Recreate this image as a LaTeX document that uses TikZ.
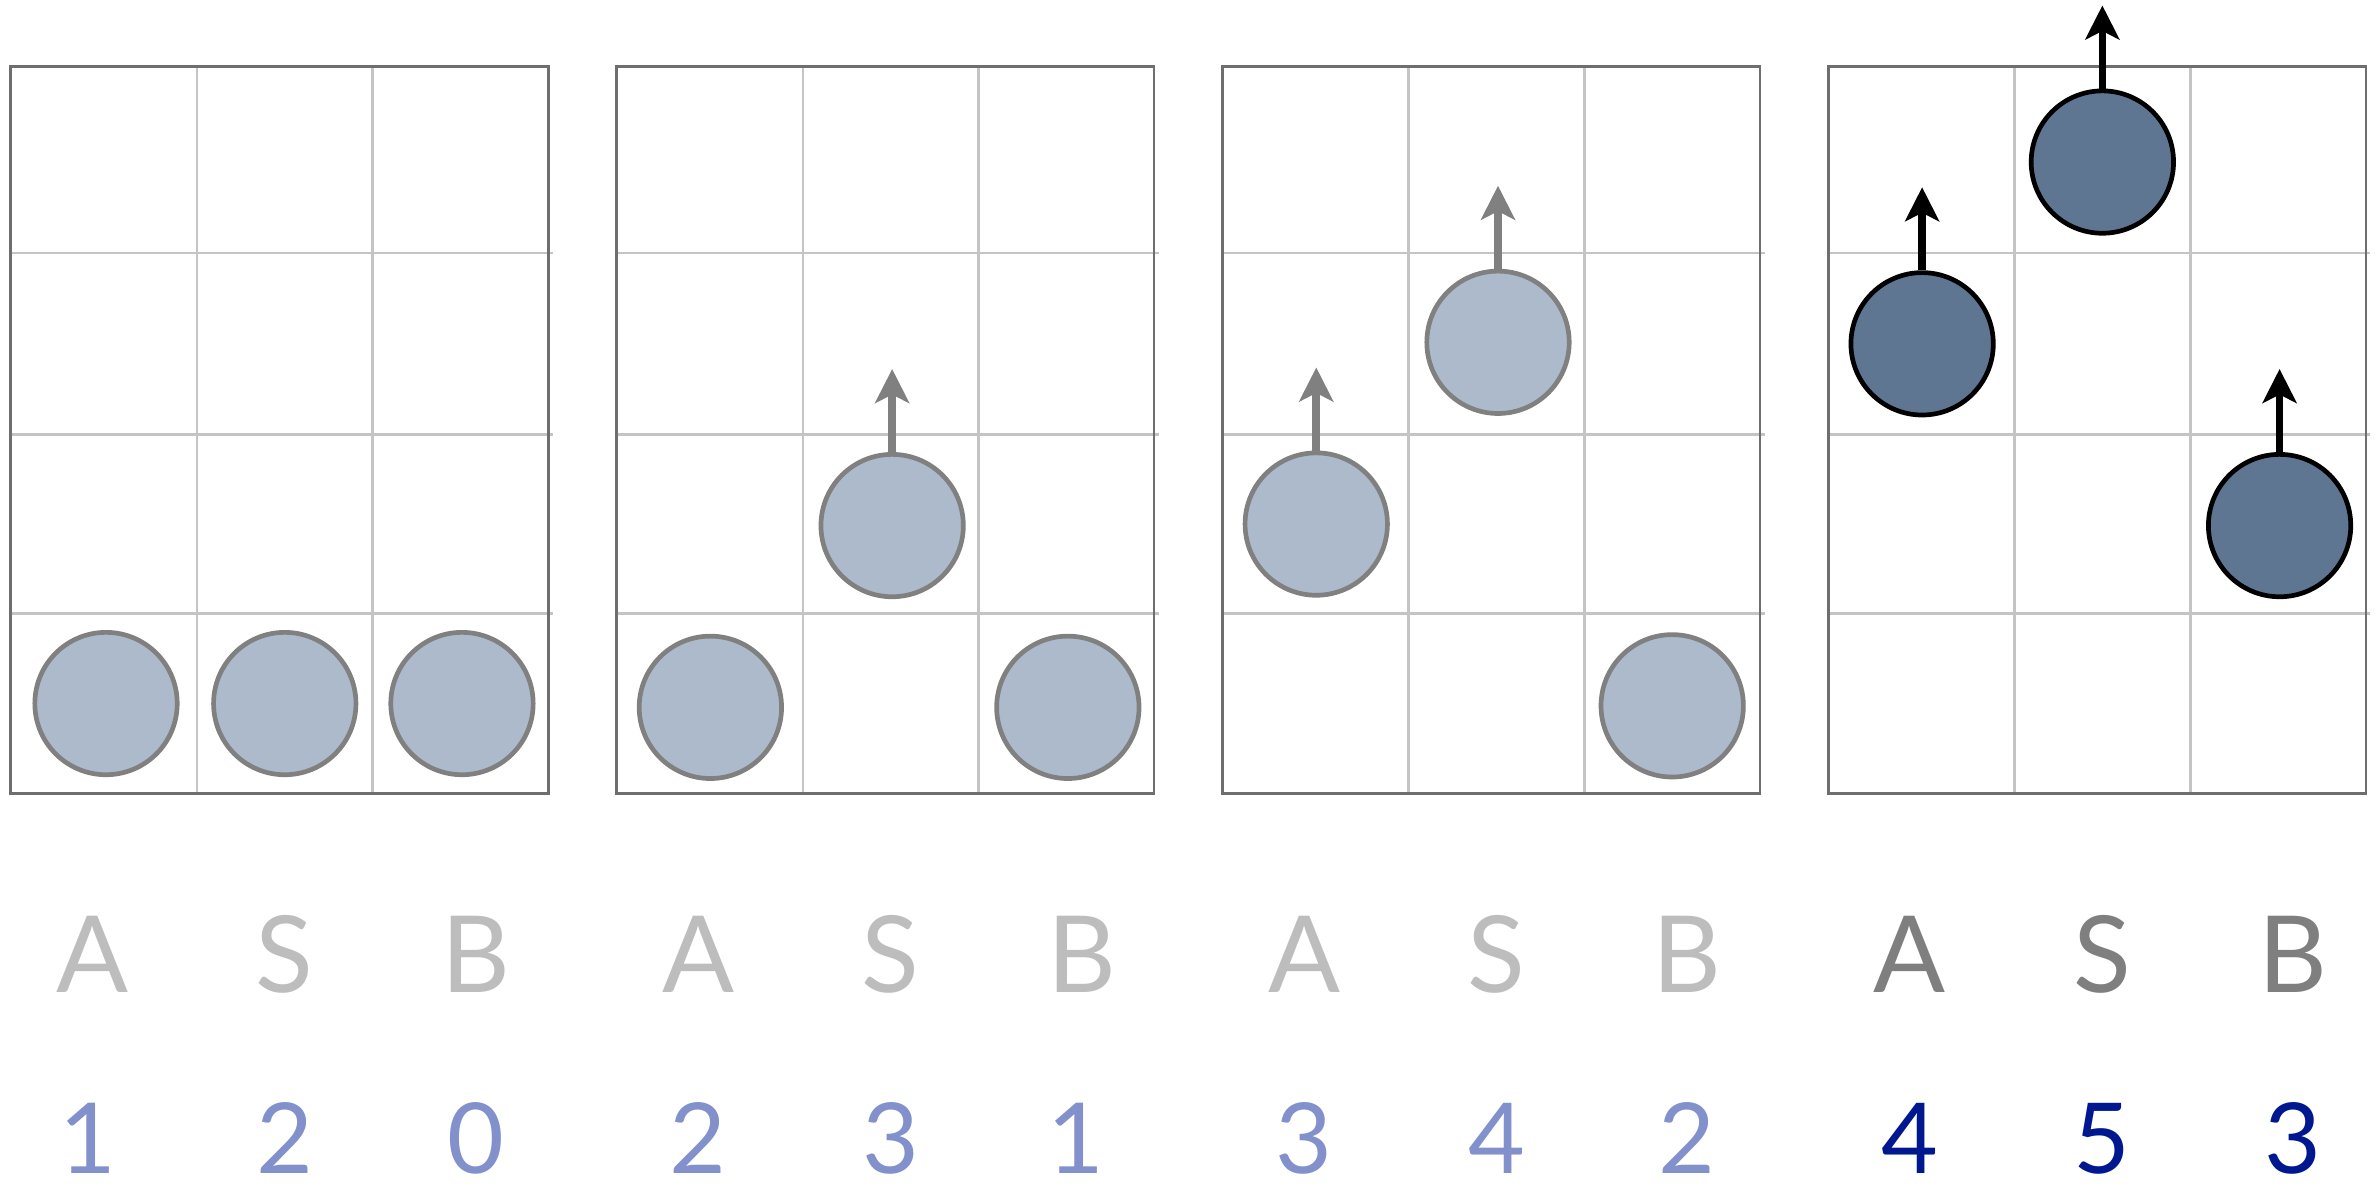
\documentclass[tikz,border=0pt]{standalone}
\usepackage{fontspec}
\setmainfont{Lato}
\usetikzlibrary{arrows.meta,positioning}
\definecolor{ballfill}{HTML}{ADBACB}
\definecolor{balldark}{HTML}{5F7692}
\definecolor{ballline}{HTML}{808080}
\definecolor{gridframe}{HTML}{6E6E6E}
\definecolor{gridline}{HTML}{C4C4C4}
\definecolor{lettlight}{HTML}{BDBDBD}
\definecolor{lettdark}{HTML}{7F7F7F}
\definecolor{numlight}{HTML}{8290CC}
\definecolor{numdark}{HTML}{00188F}
\begin{document}
\begin{tikzpicture}[x=0.125mm,y=0.125mm,
    ball/.style={circle,minimum size=11.75mm,inner sep=0pt,draw=ballline,line width=1.1pt,fill=ballfill},
    hot/.style={ball,draw=black,fill=balldark},
    arr/.style={-{Stealth[length=2.8mm,width=2.8mm,inset=0.7mm]},line width=1.8pt,ballline},
    hotarr/.style={arr,black},
    lett/.style={anchor=base,inner sep=0pt,font=\fontsize{25}{30}\selectfont,text=lettlight},
    lettd/.style={lett,text=lettdark},
    num/.style={anchor=base,inner sep=0pt,font=\fontsize{23}{28}\selectfont,text=numlight},
    numd/.style={num,text=numdark}
    ]
    \useasboundingbox (0,0) rectangle (1568,789);
    % the four boards
    \foreach \l in {7,407,807,1207}{
        \draw[gridline,line width=0.6pt] (\l+123,265) -- (\l+123,745) (\l+239,265) -- (\l+239,745)
            (\l,622) -- (\l+358,622) (\l,502) -- (\l+358,502) (\l,384) -- (\l+358,384);
        \draw[gridframe,line width=0.6pt] (\l,265) rectangle (\l+355,745);
    }
    % balls
    \node[ball] (a1) at (70,324.5) {};
    \node[ball] (s1) at (188,324.5) {};
    \node[ball] (b1) at (305,324.5) {};
    \node[ball] (a2) at (469,322) {};
    \node[ball] (s2) at (589,442) {};
    \node[ball] (b2) at (705,322) {};
    \node[ball] (a3) at (869,443) {};
    \node[ball] (s3) at (989,563) {};
    \node[ball] (b3) at (1104,323) {};
    \node[hot] (a4) at (1269,562) {};
    \node[hot] (s4) at (1388,682) {};
    \node[hot] (b4) at (1505,442) {};
    % arrows
    \coordinate (s2t) at ([yshift=6.85mm]s2.north);
    \coordinate (a3t) at ([yshift=6.85mm]a3.north);
    \coordinate (s3t) at ([yshift=6.85mm]s3.north);
    \coordinate (a4t) at ([yshift=6.85mm]a4.north);
    \coordinate (s4t) at ([yshift=6.85mm]s4.north);
    \coordinate (b4t) at ([yshift=6.85mm]b4.north);
    \draw[arr] (s2.north) -- (s2t);
    \draw[arr] (a3.north) -- (a3t);
    \draw[arr] (s3.north) -- (s3t);
    \draw[hotarr] (a4.north) -- (a4t);
    \draw[hotarr] (s4.north) -- (s4t);
    \draw[hotarr] (b4.north) -- (b4t);
    % letters
    \node[lett] (la1) at (61,134) {A};
    \node[lett] (ls1) at (188,134) {S};
    \node[lett] (lb1) at (314,134) {B};
    \node[lett] (la2) at (461,134) {A};
    \node[lett] (ls2) at (588,134) {S};
    \node[lett] (lb2) at (714,134) {B};
    \node[lett] (la3) at (861,134) {A};
    \node[lett] (ls3) at (988,134) {S};
    \node[lett] (lb3) at (1114,134) {B};
    \node[lettd] (la4) at (1261,134) {A};
    \node[lettd] (ls4) at (1388,134) {S};
    \node[lettd] (lb4) at (1514,134) {B};
    % scores
    \node[num] (na1) at (58,14) {1};
    \node[num] (ns1) at (188,14) {2};
    \node[num] (nb1) at (314,14) {0};
    \node[num] (na2) at (461,14) {2};
    \node[num] (ns2) at (588,14) {3};
    \node[num] (nb2) at (710,14) {1};
    \node[num] (na3) at (861,14) {3};
    \node[num] (ns3) at (988,14) {4};
    \node[num] (nb3) at (1114,14) {2};
    \node[numd] (na4) at (1261,14) {4};
    \node[numd] (ns4) at (1388,14) {5};
    \node[numd] (nb4) at (1514,14) {3};
\end{tikzpicture}
\end{document}
